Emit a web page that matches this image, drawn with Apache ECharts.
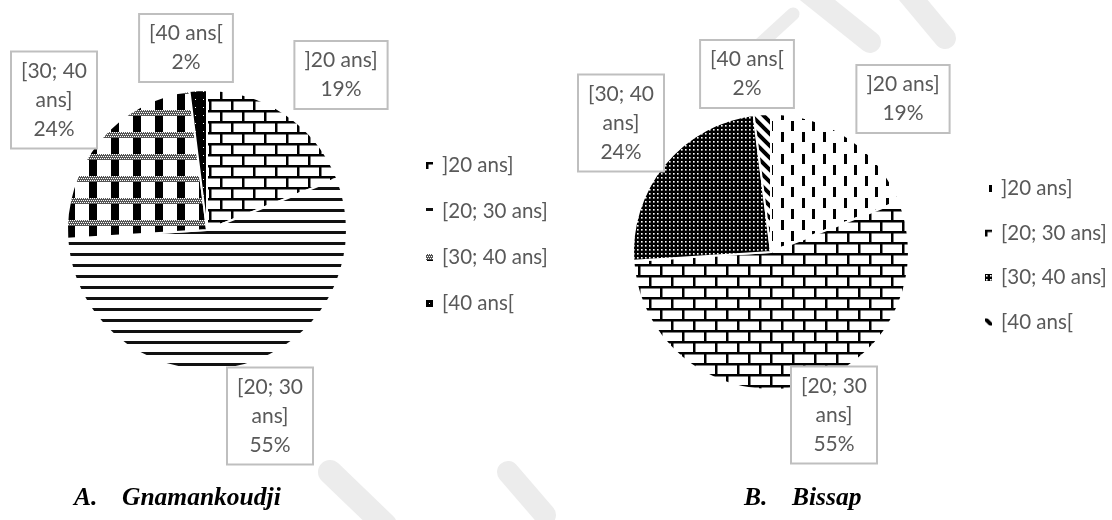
<!DOCTYPE html>
<html><head><meta charset="utf-8">
<script src="https://cdn.jsdelivr.net/npm/echarts@6/dist/echarts.min.js"></script>
<style>html,body{margin:0;padding:0;background:#fff}#c{width:1112px;height:520px}</style>
</head><body><div id="c"></div>
<script>
// ---- data ----
const categories = [']20 ans]', '[20; 30 ans]', '[30; 40 ans]', '[40 ans['];
const gnamankoudjiValues = [19, 55, 24, 2];
const bissapValues = [19, 55, 24, 2];
const captionA = ['A.', 'Gnamankoudji'];
const captionB = ['B.', 'Bissap'];

// ---- pattern fills (style only) ----
function tile(w, h, draw) {
  const c = document.createElement('canvas');
  c.width = w; c.height = h;
  const g = c.getContext('2d');
  g.fillStyle = '#fff'; g.fillRect(0, 0, w, h);
  g.fillStyle = '#000'; g.strokeStyle = '#000';
  draw(g, w, h);
  return { image: c, repeat: 'repeat' };
}
const brick = tile(22, 22, g => {
  g.fillRect(0, 0, 22, 2.5); g.fillRect(0, 11, 22, 2.5);
  g.fillRect(0, 0, 2.5, 11); g.fillRect(11, 11, 2.5, 11);
});
const hStripe = tile(4, 11, g => { g.fillStyle = '#111'; g.fillRect(0, 0, 4, 3); });
const plaid = tile(22, 22, g => {
  g.fillStyle = '#555'; g.fillRect(0, 0, 22, 6);
  g.fillStyle = '#fff';
  for (let x = 0; x < 22; x += 2) for (let y = 0; y < 6; y += 2) g.fillRect(x + (y % 4 ? 1 : 0), y, 1, 1);
  g.fillStyle = '#000'; g.fillRect(1, 6, 8, 16);
});
const blackDots = tile(8, 8, g => { g.fillRect(0, 0, 8, 8); g.fillStyle = '#fff'; g.fillRect(3, 3, 1, 1); });
const vDash = tile(21, 22, g => { g.fillRect(4, 0, 3, 10); g.fillRect(14, 11, 3, 10); });
const darkGrid = tile(4, 4, g => { g.fillRect(0, 0, 4, 4); g.fillStyle = '#fff'; g.fillRect(1, 1, 1.6, 1.6); });
const diag = tile(12, 12, g => {
  g.lineWidth = 4; g.beginPath();
  for (let k = -1; k <= 1; k++) { g.moveTo(k * 12 - 2, -2); g.lineTo(k * 12 + 14, 14); }
  g.stroke();
});
const patternsA = [brick, hStripe, plaid, blackDots];
const patternsB = [vDash, brick, darkGrid, diag];

const labelPosA = [[341, 75], [270, 416], [54, 100], [186, 48]];
const labelPosB = [[903, 99], [834, 415], [621, 123], [747, 74]];

function wrapName(n) {
  if (n.length > 9) { const i = n.lastIndexOf(' '); return n.slice(0, i) + '\n' + n.slice(i + 1); }
  return n;
}
const labelStyle = {
  show: true, position: 'outside',
  formatter: p => wrapName(p.name) + '\n' + Math.round(p.percent) + '%',
  color: '#595959', fontFamily: 'Lato', fontSize: 21, lineHeight: 29,
  backgroundColor: '#fff', borderColor: '#BFBFBF', borderWidth: 2,
  padding: [4, 9], align: 'center'
};
function makeSeries(values, patterns, center, radius, pos) {
  return {
    type: 'pie', center: center, radius: radius, startAngle: 90, clockwise: true,
    avoidLabelOverlap: false, silent: true, z: 3,
    data: categories.map((n, i) => ({ name: n, value: values[i], itemStyle: { color: patterns[i] } })),
    itemStyle: { borderColor: '#fff', borderWidth: 2 },
    label: labelStyle, labelLine: { show: false },
    labelLayout: p => ({ x: pos[p.dataIndex][0], y: pos[p.dataIndex][1], align: 'center', verticalAlign: 'middle' }),
    emphasis: { disabled: true }
  };
}
function makeLegend(patterns, left, top, gap) {
  return {
    left: left, top: top, orient: 'vertical', itemGap: gap, itemWidth: 7, itemHeight: 7, icon: 'rect',
    selectedMode: false, z: 4,
    data: categories.map((n, i) => ({ name: n, itemStyle: { color: patterns[i], borderWidth: 0 } })),
    textStyle: { color: '#595959', fontFamily: 'Lato', fontSize: 20.5, lineHeight: 20, padding: [0, 0, 0, 4] }
  };
}
const capFont = { fontFamily: 'Liberation Serif', fontWeight: 'bold', fontStyle: 'italic', fontSize: 25.5, color: '#000' };
const capStyle = { rich: { a: Object.assign({ width: 48 }, capFont), b: capFont } };
const wm = '#ECECEC';
function wmLine(pts, w) {
  return { type: 'polyline', silent: true, z: -10, shape: { points: pts }, style: { stroke: wm, lineWidth: w, lineCap: 'round', fill: null } };
}
const chart = echarts.init(document.getElementById('c'), null, { renderer: 'canvas' });
chart.setOption({
  backgroundColor: '#fff',
  animation: false,
  graphic: [
    wmLine([[757, 47], [793, 14]], 13),
    wmLine([[805, -10], [870, 42]], 22),
    wmLine([[905, -10], [945, 38]], 22),
    wmLine([[330, 472], [385, 525]], 24),
    wmLine([[508, 472], [545, 515]], 22)
  ],
  title: [
    { text: '{a|' + captionA[0] + '}{b|' + captionA[1] + '}', left: 74, top: 485, padding: 0, textStyle: capStyle },
    { text: '{a|' + captionB[0] + '}{b|' + captionB[1] + '}', left: 744, top: 485, padding: 0, textStyle: capStyle }
  ],
  legend: [makeLegend(patternsA, 421, 150, 25), makeLegend(patternsB, 980, 173, 23.5)],
  series: [
    makeSeries(gnamankoudjiValues, patternsA, [207, 230], 140, labelPosA),
    makeSeries(bissapValues, patternsB, [771, 252], 138, labelPosB)
  ]
});
</script>
</body></html>
